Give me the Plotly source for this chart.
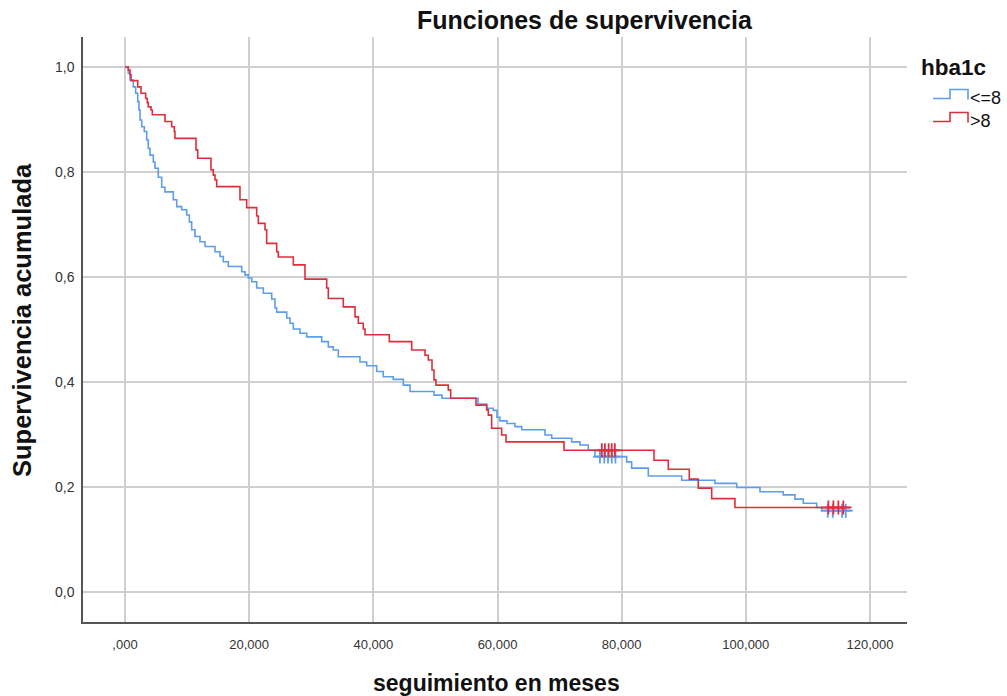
import plotly.graph_objects as go

# ---- data (months, cumulative survival) ----
blue_t = [0, 0.53, 0.81, 1.34, 1.72, 2.05, 2.25, 2.42, 2.69, 3.11, 3.50, 3.75, 4.03, 4.56, 4.83, 5.36,
          5.91, 6.44, 7.78, 8.33, 9.13, 9.94, 10.36, 10.74, 11.27, 12.08, 12.89, 14.50, 15.30, 15.83,
          16.64, 18.80, 19.33, 19.86, 20.41, 21.21, 22.28, 23.63, 24.16, 24.43, 26.05, 26.58, 27.11,
          28.19, 29.27, 31.68, 32.75, 33.55, 34.36, 37.85, 38.93, 40.54, 41.60, 43.21, 44.83, 45.91,
          49.77, 51.06, 56.86, 58.26, 59.32, 59.92, 60.40, 61.53, 62.82, 63.90, 67.65, 68.73, 71.95,
          73.29, 74.62, 75.70, 80.81, 81.61, 84.29, 89.67, 95.03, 98.53, 102.28, 106.03, 107.92,
          109.25, 111.41, 112.22, 117.0]
blue_s = [1.0, 0.988, 0.975, 0.962, 0.950, 0.934, 0.918, 0.899, 0.886, 0.877, 0.861, 0.845, 0.832,
          0.819, 0.807, 0.790, 0.771, 0.762, 0.747, 0.734, 0.728, 0.718, 0.705, 0.690, 0.677, 0.667,
          0.658, 0.648, 0.639, 0.629, 0.620, 0.610, 0.604, 0.598, 0.591, 0.579, 0.569, 0.558, 0.541,
          0.533, 0.522, 0.512, 0.501, 0.493, 0.486, 0.477, 0.467, 0.461, 0.448, 0.438, 0.431, 0.420,
          0.410, 0.405, 0.394, 0.382, 0.375, 0.369, 0.358, 0.350, 0.346, 0.333, 0.326, 0.321, 0.315,
          0.309, 0.299, 0.293, 0.286, 0.280, 0.270, 0.258, 0.248, 0.236, 0.221, 0.213, 0.207, 0.199,
          0.191, 0.185, 0.177, 0.169, 0.161, 0.155, 0.155]

red_t = [0, 0.53, 0.81, 0.97, 2.05, 2.58, 3.33, 3.59, 3.75, 4.19, 4.40, 6.44, 7.52, 7.94, 8.05,
         11.44, 11.71, 13.85, 14.22, 14.50, 14.77, 18.52, 19.60, 21.21, 21.47, 22.55, 22.82, 24.43,
         24.69, 27.11, 28.99, 32.49, 32.75, 35.16, 37.05, 37.58, 38.38, 38.66, 42.57, 46.18, 48.32,
         48.85, 49.45, 49.77, 50.09, 52.07, 52.46, 56.54, 58.26, 58.52, 59.06, 60.67, 61.37, 70.71,
         85.21, 87.51, 90.89, 92.34, 94.50, 98.25, 117.05]
red_s = [1.0, 0.994, 0.985, 0.974, 0.962, 0.950, 0.940, 0.932, 0.924, 0.918, 0.909, 0.896, 0.886,
         0.877, 0.864, 0.842, 0.826, 0.804, 0.794, 0.785, 0.772, 0.747, 0.732, 0.716, 0.702, 0.690,
         0.664, 0.648, 0.638, 0.623, 0.596, 0.579, 0.559, 0.543, 0.524, 0.512, 0.501, 0.490, 0.477,
         0.461, 0.451, 0.442, 0.423, 0.404, 0.394, 0.385, 0.369, 0.356, 0.347, 0.337, 0.312, 0.299,
         0.286, 0.270, 0.251, 0.234, 0.215, 0.198, 0.178, 0.161, 0.161]

blue_cens_t = [76.5, 77.2, 77.8, 78.4, 79.0, 113.2, 114.0, 115.5, 116.1]
blue_cens_s = [0.258, 0.258, 0.258, 0.258, 0.258, 0.155, 0.155, 0.155, 0.155]
red_cens_t = [76.8, 77.3, 77.9, 78.4, 78.9, 113.3, 114.1, 114.9, 115.7]
red_cens_s = [0.270, 0.270, 0.270, 0.270, 0.270, 0.161, 0.161, 0.161, 0.161]

x_tickvals = [0, 20, 40, 60, 80, 100, 120]
x_ticktext = [",000", "20,000", "40,000", "60,000", "80,000", "100,000", "120,000"]
y_tickvals = [0, 0.2, 0.4, 0.6, 0.8, 1.0]
y_ticktext = ["0,0", "0,2", "0,4", "0,6", "0,8", "1,0"]

group_names = ["<=8", ">8"]
BLUE = "#5c9ded"
RED = "#dd2f3b"

W, H = 1007, 696
L, R, T, B = 83, 907, 37, 622  # plot area in pixels


def px(x):
    return (x - L) / (R - L)


def py(y):
    return (B - y) / (B - T)


fig = go.Figure()
fig.add_trace(go.Scatter(x=blue_t, y=blue_s, mode="lines", line=dict(color=BLUE, width=1.6, shape="hv"),
                         showlegend=False, name=group_names[0]))
fig.add_trace(go.Scatter(x=red_t, y=red_s, mode="lines", line=dict(color=RED, width=1.6, shape="hv"),
                         showlegend=False, name=group_names[1]))
fig.add_trace(go.Scatter(x=blue_cens_t, y=blue_cens_s, mode="markers",
                         marker=dict(symbol="cross-thin", size=10, line=dict(color=BLUE, width=1.8)),
                         showlegend=False))
fig.add_trace(go.Scatter(x=red_cens_t, y=red_cens_s, mode="markers",
                         marker=dict(symbol="cross-thin", size=10, line=dict(color=RED, width=1.8)),
                         showlegend=False))

FONT = "Liberation Sans, Arial, sans-serif"

fig.update_layout(
    width=W, height=H,
    margin=dict(l=L, r=W - R, t=T, b=H - B, pad=0),
    paper_bgcolor="white", plot_bgcolor="white",
    font=dict(family=FONT, color="#222"),
    xaxis=dict(range=[-6.765, 125.96], tickvals=x_tickvals, ticktext=x_ticktext,
               showgrid=True, gridcolor="#cfcfcf", gridwidth=2, zeroline=False,
               showline=True, linecolor="#555", linewidth=1.5, ticks="",
               tickfont=dict(size=13, color="#333"), ticklabelstandoff=10),
    yaxis=dict(range=[-0.057, 1.057], tickvals=y_tickvals, ticktext=y_ticktext,
               showgrid=True, gridcolor="#cfcfcf", gridwidth=2, zeroline=False,
               showline=True, linecolor="#555", linewidth=1.5, ticks="",
               tickfont=dict(size=14, color="#333"), ticklabelstandoff=4),
)

ann = []
ann.append(dict(text="<b>Funciones de supervivencia</b>", x=px(585), y=py(20), xref="paper", yref="paper",
                showarrow=False, xanchor="center", yanchor="middle", font=dict(size=25, color="#111")))
ann.append(dict(text="<b>Supervivencia acumulada</b>", x=px(22), y=py(320), xref="paper", yref="paper",
                showarrow=False, xanchor="center", yanchor="middle", textangle=-90,
                font=dict(size=25.5, color="#111")))
ann.append(dict(text="<b>seguimiento en meses</b>", x=px(496), y=py(683), xref="paper", yref="paper",
                showarrow=False, xanchor="center", yanchor="middle", font=dict(size=23, color="#111")))
ann.append(dict(text="<b>hba1c</b>", x=px(919), y=py(67), xref="paper", yref="paper",
                showarrow=False, xanchor="left", yanchor="middle", font=dict(size=22.5, color="#111")))
ann.append(dict(text="&lt;=8", x=px(968), y=py(98), xref="paper", yref="paper",
                showarrow=False, xanchor="left", yanchor="middle", font=dict(size=18, color="#111")))
ann.append(dict(text="&gt;8", x=px(968), y=py(121), xref="paper", yref="paper",
                showarrow=False, xanchor="left", yanchor="middle", font=dict(size=18, color="#111")))
fig.update_layout(annotations=ann)


def icon(y0, color):
    pts = [(933, y0), (950, y0), (950, y0 - 9), (968, y0 - 9), (968, y0 + 1)]
    path = "M " + " L ".join(f"{px(a):.5f},{py(b):.5f}" for a, b in pts)
    return dict(type="path", path=path, xref="paper", yref="paper",
                line=dict(color=color, width=1.6))


fig.update_layout(shapes=[icon(98.5, BLUE), icon(121.5, RED)])

fig.write_html("out.html")
